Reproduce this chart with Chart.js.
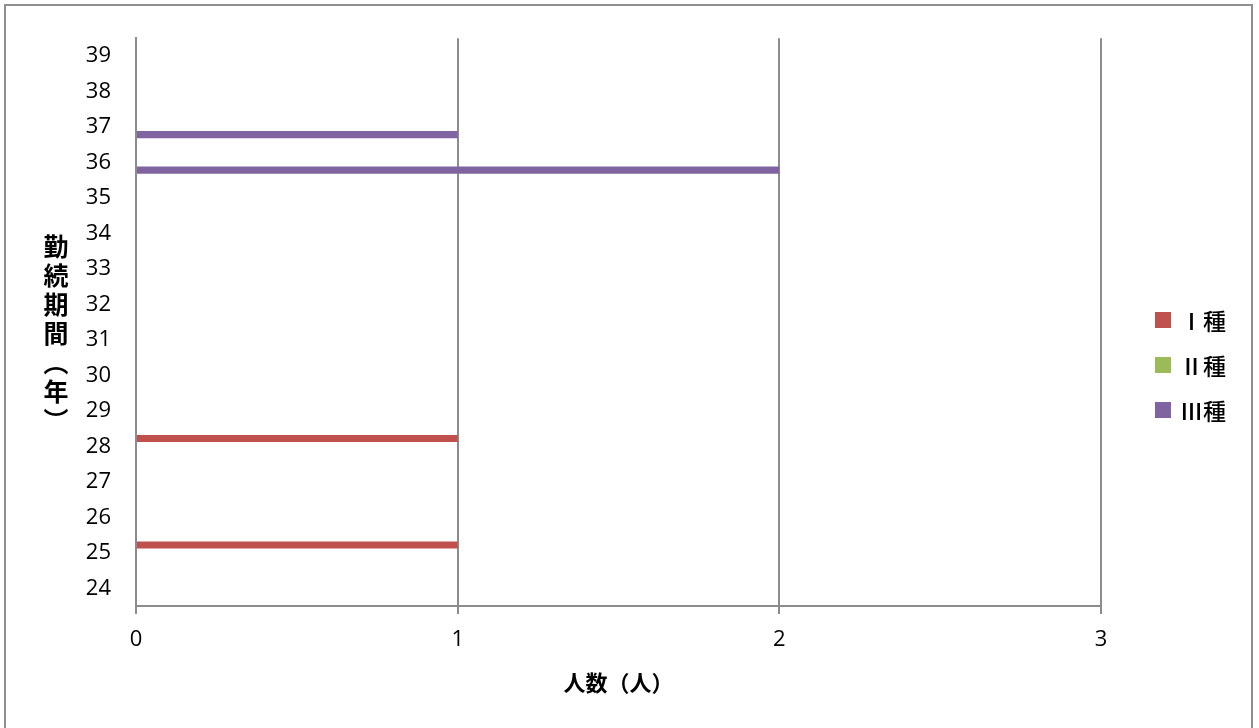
<!DOCTYPE html>
<html>
<head>
<meta charset="utf-8">
<script src="https://cdn.jsdelivr.net/npm/chart.js@4"></script>
<style>
html,body{margin:0;padding:0;background:#fff;overflow:hidden}
#wrap{position:relative;width:1259px;height:728px;overflow:hidden}
#frame{position:absolute;left:4px;top:4px;width:1249px;height:740px;border:2px solid #8f8f8f;box-sizing:border-box;pointer-events:none}
#c{position:absolute;left:0;top:0}
#ytitle{position:absolute;left:43px;top:234px;writing-mode:vertical-rl;text-orientation:mixed;font:bold 25px 'Noto Sans CJK JP';letter-spacing:4px;color:#000;line-height:25px}
.lg{position:absolute;left:1155px;height:30px;display:flex;align-items:center;font:500 23px 'Noto Sans CJK JP';color:#000}
.lg i{display:inline-block;width:16px;height:16px;margin-right:9px}
</style>
</head>
<body>
<div id="wrap">
<canvas id="c" width="1259" height="728"></canvas>
<div id="ytitle">勤続期間（年）</div>
<div id="legend"></div>
<div id="frame"></div>
</div>
<script>
// categories: 勤続期間（年）, bottom to top
const categories = ['24','25','26','27','28','29','30','31','32','33','34','35','36','37','38','39'];
const seriesNames = ['Ⅰ種','Ⅱ種','Ⅲ種'];
const seriesColors = ['#C0504D','#9BBB59','#8064A2'];
const type1 = [null,1,null,null,1,null,null,null,null,null,null,null,null,null,null,null];
const type2 = [null,null,null,null,null,null,null,null,null,null,null,null,null,null,null,null];
const type3 = [null,null,null,null,null,null,null,null,null,null,null,null,2,1,null,null];
const xTicks = [0,1,2,3];

const seriesValues = [type1,type2,type3];
const labelsTopDown = categories.slice().reverse();
const datasets = seriesNames.map((n,i)=>({
  label:n,
  data:seriesValues[i].slice().reverse(),
  backgroundColor:seriesColors[i],
  borderWidth:0,
  categoryPercentage:0.655,
  barPercentage:0.92
}));

const legend = document.getElementById('legend');
const rowCenters = [320,365,410];
seriesNames.forEach((n,i)=>{
  const d=document.createElement('div');
  d.className='lg';
  d.style.top=(rowCenters[i]-15)+'px';
  d.innerHTML='<i style="background:'+seriesColors[i]+'"></i><span>'+n+'</span>';
  legend.appendChild(d);
});

const gridCol='#8c8c8c';
new Chart(document.getElementById('c'),{
  type:'bar',
  data:{labels:labelsTopDown,datasets:datasets},
  options:{
    indexAxis:'y',
    responsive:false,
    animation:false,
    devicePixelRatio:1,
    layout:{padding:{left:0,top:35,right:158,bottom:0}},
    plugins:{legend:{display:false},tooltip:{enabled:false}},
    scales:{
      x:{
        type:'linear',min:0,max:3,
        afterBuildTicks:(s)=>{s.ticks=xTicks.map(v=>({value:v}));},
        afterFit:(s)=>{s.height=122;},
        ticks:{color:'#000',font:{family:'Open Sans',size:22},padding:13},
        grid:{color:gridCol,lineWidth:2,tickLength:8,drawTicks:true},
        border:{color:gridCol,width:2},
        title:{display:true,text:'人数（人）',color:'#000',font:{family:'Noto Sans CJK JP',size:22,weight:'bold'},padding:{top:0,bottom:32}}
      },
      y:{
        type:'category',offset:true,
        afterFit:(s)=>{s.width=136;},
        ticks:{color:'#000',font:{family:'Open Sans',size:22},padding:25,autoSkip:false},
        grid:{display:false,drawTicks:false},
        border:{display:true,color:gridCol,width:2}
      }
    }
  }
});
</script>
</body>
</html>
